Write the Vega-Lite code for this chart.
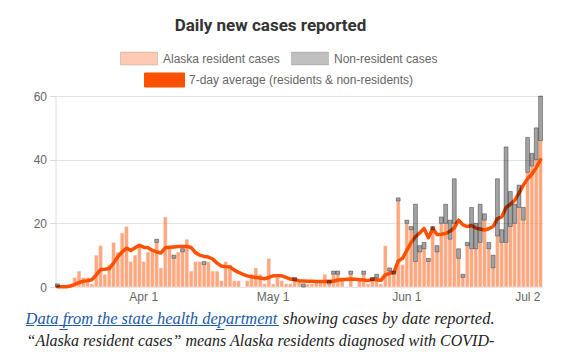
{
  "$schema": "https://vega.github.io/schema/vega-lite/v6.json",
  "width": 487,
  "height": 191,
  "autosize": {"type": "none"},
  "padding": {"left": 55.5, "top": 96, "right": 18.5, "bottom": 69},
  "background": "white",
  "title": {
    "text": "Daily new cases reported",
    "font": "Roboto",
    "fontSize": 17,
    "fontWeight": "bold",
    "color": "#333333",
    "anchor": "middle",
    "frame": "group",
    "dx": -28.5,
    "dy": 21,
    "offset": 12,
    "baseline": "alphabetic"
  },
  "data": {
    "values": [
      {"date": "2020-03-12", "res": 0, "non": 1, "avg": 0.1},
      {"date": "2020-03-13", "res": 0, "non": 0, "avg": 0.1},
      {"date": "2020-03-14", "res": 0, "non": 0, "avg": 0.1},
      {"date": "2020-03-15", "res": 0, "non": 0, "avg": 0.3},
      {"date": "2020-03-16", "res": 3, "non": 0, "avg": 0.8},
      {"date": "2020-03-17", "res": 5, "non": 0, "avg": 1.4},
      {"date": "2020-03-18", "res": 3, "non": 0, "avg": 1.8},
      {"date": "2020-03-19", "res": 3, "non": 0, "avg": 2.0},
      {"date": "2020-03-20", "res": 1, "non": 0, "avg": 2.3},
      {"date": "2020-03-21", "res": 10, "non": 0, "avg": 3.8},
      {"date": "2020-03-22", "res": 13, "non": 0, "avg": 5.5},
      {"date": "2020-03-23", "res": 4, "non": 0, "avg": 5.6},
      {"date": "2020-03-24", "res": 7, "non": 0, "avg": 5.8},
      {"date": "2020-03-25", "res": 14, "non": 0, "avg": 7.5},
      {"date": "2020-03-26", "res": 11, "non": 0, "avg": 9.5},
      {"date": "2020-03-27", "res": 17, "non": 0, "avg": 11.0},
      {"date": "2020-03-28", "res": 19, "non": 0, "avg": 12.2},
      {"date": "2020-03-29", "res": 8, "non": 0, "avg": 11.5},
      {"date": "2020-03-30", "res": 10, "non": 0, "avg": 12.3},
      {"date": "2020-03-31", "res": 13, "non": 0, "avg": 13.1},
      {"date": "2020-04-01", "res": 8, "non": 0, "avg": 12.5},
      {"date": "2020-04-02", "res": 11, "non": 0, "avg": 12.3},
      {"date": "2020-04-03", "res": 11, "non": 0, "avg": 11.5},
      {"date": "2020-04-04", "res": 14, "non": 1, "avg": 11.0},
      {"date": "2020-04-05", "res": 6, "non": 0, "avg": 10.7},
      {"date": "2020-04-06", "res": 22, "non": 0, "avg": 12.3},
      {"date": "2020-04-07", "res": 12, "non": 0, "avg": 12.5},
      {"date": "2020-04-08", "res": 9, "non": 1, "avg": 12.6},
      {"date": "2020-04-09", "res": 11, "non": 0, "avg": 12.7},
      {"date": "2020-04-10", "res": 11, "non": 1, "avg": 12.7},
      {"date": "2020-04-11", "res": 15, "non": 0, "avg": 12.7},
      {"date": "2020-04-12", "res": 5, "non": 0, "avg": 12.4},
      {"date": "2020-04-13", "res": 8, "non": 0, "avg": 10.8},
      {"date": "2020-04-14", "res": 8, "non": 0, "avg": 10.0},
      {"date": "2020-04-15", "res": 7, "non": 1, "avg": 9.6},
      {"date": "2020-04-16", "res": 8, "non": 0, "avg": 9.4},
      {"date": "2020-04-17", "res": 5, "non": 0, "avg": 8.8},
      {"date": "2020-04-18", "res": 5, "non": 0, "avg": 7.5},
      {"date": "2020-04-19", "res": 2, "non": 0, "avg": 6.6},
      {"date": "2020-04-20", "res": 8, "non": 0, "avg": 6.4},
      {"date": "2020-04-21", "res": 7, "non": 0, "avg": 6.3},
      {"date": "2020-04-22", "res": 2, "non": 0, "avg": 5.3},
      {"date": "2020-04-23", "res": 2, "non": 0, "avg": 4.6},
      {"date": "2020-04-24", "res": 0, "non": 0, "avg": 4.0},
      {"date": "2020-04-25", "res": 2, "non": 0, "avg": 3.5},
      {"date": "2020-04-26", "res": 4, "non": 0, "avg": 3.2},
      {"date": "2020-04-27", "res": 6, "non": 0, "avg": 3.0},
      {"date": "2020-04-28", "res": 4, "non": 0, "avg": 2.8},
      {"date": "2020-04-29", "res": 1, "non": 0, "avg": 2.6},
      {"date": "2020-04-30", "res": 9, "non": 0, "avg": 3.0},
      {"date": "2020-05-01", "res": 1, "non": 0, "avg": 3.5},
      {"date": "2020-05-02", "res": 3, "non": 0, "avg": 3.5},
      {"date": "2020-05-03", "res": 2, "non": 0, "avg": 3.5},
      {"date": "2020-05-04", "res": 1, "non": 0, "avg": 3.0},
      {"date": "2020-05-05", "res": 1, "non": 0, "avg": 2.5},
      {"date": "2020-05-06", "res": 2, "non": 1, "avg": 2.3},
      {"date": "2020-05-07", "res": 2, "non": 0, "avg": 2.0},
      {"date": "2020-05-08", "res": 0, "non": 1, "avg": 1.9},
      {"date": "2020-05-09", "res": 1, "non": 0, "avg": 1.8},
      {"date": "2020-05-10", "res": 1, "non": 0, "avg": 1.8},
      {"date": "2020-05-11", "res": 2, "non": 0, "avg": 1.7},
      {"date": "2020-05-12", "res": 2, "non": 0, "avg": 1.7},
      {"date": "2020-05-13", "res": 4, "non": 0, "avg": 1.7},
      {"date": "2020-05-14", "res": 1, "non": 1, "avg": 1.8},
      {"date": "2020-05-15", "res": 4, "non": 1, "avg": 1.8},
      {"date": "2020-05-16", "res": 4, "non": 1, "avg": 2.2},
      {"date": "2020-05-17", "res": 3, "non": 0, "avg": 2.3},
      {"date": "2020-05-18", "res": 0, "non": 0, "avg": 2.4},
      {"date": "2020-05-19", "res": 4, "non": 1, "avg": 2.5},
      {"date": "2020-05-20", "res": 0, "non": 0, "avg": 2.4},
      {"date": "2020-05-21", "res": 2, "non": 0, "avg": 2.3},
      {"date": "2020-05-22", "res": 4, "non": 1, "avg": 2.2},
      {"date": "2020-05-23", "res": 1, "non": 0, "avg": 2.0},
      {"date": "2020-05-24", "res": 2, "non": 1, "avg": 2.4},
      {"date": "2020-05-25", "res": 3, "non": 1, "avg": 2.3},
      {"date": "2020-05-26", "res": 1, "non": 0, "avg": 2.1},
      {"date": "2020-05-27", "res": 13, "non": 0, "avg": 3.8},
      {"date": "2020-05-28", "res": 5, "non": 1, "avg": 4.3},
      {"date": "2020-05-29", "res": 4, "non": 1, "avg": 4.6},
      {"date": "2020-05-30", "res": 27, "non": 1, "avg": 8.2},
      {"date": "2020-05-31", "res": 7, "non": 0, "avg": 9.0},
      {"date": "2020-06-01", "res": 20, "non": 1, "avg": 11.5},
      {"date": "2020-06-02", "res": 18, "non": 1, "avg": 14.0},
      {"date": "2020-06-03", "res": 8, "non": 18, "avg": 15.8},
      {"date": "2020-06-04", "res": 11, "non": 2, "avg": 17.0},
      {"date": "2020-06-05", "res": 12, "non": 2, "avg": 18.4},
      {"date": "2020-06-06", "res": 8, "non": 1, "avg": 15.5},
      {"date": "2020-06-07", "res": 18, "non": 1, "avg": 18.4},
      {"date": "2020-06-08", "res": 11, "non": 2, "avg": 16.5},
      {"date": "2020-06-09", "res": 20, "non": 2, "avg": 16.6},
      {"date": "2020-06-10", "res": 20, "non": 6, "avg": 16.8},
      {"date": "2020-06-11", "res": 15, "non": 6, "avg": 17.5},
      {"date": "2020-06-12", "res": 20, "non": 14, "avg": 18.6},
      {"date": "2020-06-13", "res": 9, "non": 3, "avg": 21.0},
      {"date": "2020-06-14", "res": 3, "non": 1, "avg": 19.5},
      {"date": "2020-06-15", "res": 13, "non": 1, "avg": 19.0},
      {"date": "2020-06-16", "res": 12, "non": 13, "avg": 19.3},
      {"date": "2020-06-17", "res": 12, "non": 8, "avg": 18.5},
      {"date": "2020-06-18", "res": 14, "non": 12, "avg": 18.2},
      {"date": "2020-06-19", "res": 21, "non": 2, "avg": 17.9},
      {"date": "2020-06-20", "res": 12, "non": 2, "avg": 18.3},
      {"date": "2020-06-21", "res": 6, "non": 4, "avg": 19.0},
      {"date": "2020-06-22", "res": 16, "non": 18, "avg": 21.5},
      {"date": "2020-06-23", "res": 14, "non": 4, "avg": 22.0},
      {"date": "2020-06-24", "res": 14, "non": 30, "avg": 25.0},
      {"date": "2020-06-25", "res": 19, "non": 11, "avg": 26.0},
      {"date": "2020-06-26", "res": 20, "non": 6, "avg": 27.2},
      {"date": "2020-06-27", "res": 25, "non": 7, "avg": 29.5},
      {"date": "2020-06-28", "res": 21, "non": 4, "avg": 32.0},
      {"date": "2020-06-29", "res": 36, "non": 11, "avg": 34.0},
      {"date": "2020-06-30", "res": 38, "non": 4, "avg": 35.5},
      {"date": "2020-07-01", "res": 40, "non": 10, "avg": 37.5},
      {"date": "2020-07-02", "res": 46, "non": 14, "avg": 40.0}
    ]
  },
  "layer": [
    {
      "transform": [{"filter": "datum.res > 0"}],
      "mark": {"type": "bar", "fill": "rgba(255,80,0,0.5)", "stroke": "#ffffff", "strokeOpacity": 0.4, "strokeWidth": 1},
      "encoding": {
        "x": {
          "field": "date",
          "type": "ordinal",
          "scale": {"type": "band", "paddingInner": 0.1, "paddingOuter": 0},
          "axis": {
            "orient": "bottom",
            "values": ["2020-04-01", "2020-05-01", "2020-06-01", "2020-07-02"],
            "labelExpr": "{'2020-04-01': 'Apr 1', '2020-05-01': 'May 1', '2020-06-01': 'Jun 1', '2020-07-02': 'Jul 2'}[datum.value]",
            "labelAngle": 0,
            "labelAlign": {"condition": {"test": "datum.value === '2020-07-02'", "value": "right"}, "value": "center"},
            "labelFont": "Liberation Sans",
            "labelFontSize": 12,
            "labelColor": "#666666",
            "labelPadding": 4,
            "ticks": false,
            "domain": false,
            "grid": false,
            "title": "\u201cAlaska resident cases\u201d means Alaska residents diagnosed with COVID-",
            "titleFont": "Liberation Serif",
            "titleFontStyle": "italic",
            "titleFontWeight": "normal",
            "titleFontSize": 16,
            "titleColor": "#222222",
            "titleAlign": "left",
            "titleAnchor": "start",
            "titleX": -29.5,
            "titleY": 58.5,
            "titleBaseline": "alphabetic",
            "titleLimit": 600
          }
        },
        "y": {
          "field": "res",
          "type": "quantitative",
          "scale": {"domain": [0, 60], "nice": false},
          "axis": {
            "values": [0, 10, 20, 30, 40, 50, 60],
            "title": null,
            "grid": true,
            "gridColor": "#e3e3e3",
            "domain": true,
            "domainColor": "#dcdcdc",
            "ticks": true,
            "tickColor": "#dcdcdc",
            "tickSize": 6,
            "labelFont": "Liberation Sans",
            "labelFontSize": 12,
            "labelColor": "#666666",
            "labelPadding": 3
          }
        }
      }
    },
    {
      "mark": {"type": "line", "strokeWidth": 3.5, "strokeJoin": "round", "strokeCap": "round"},
      "encoding": {
        "x": {
          "field": "date",
          "type": "ordinal",
          "scale": {"type": "band"},
          "axis": {
            "orient": "bottom",
            "labels": false,
            "ticks": false,
            "domain": false,
            "grid": false,
            "title": "showing cases by date reported.",
            "titleFont": "Liberation Serif",
            "titleFontStyle": "italic",
            "titleFontWeight": "normal",
            "titleFontSize": 16.5,
            "titleColor": "#222222",
            "titleAlign": "left",
            "titleAnchor": "start",
            "titleX": 227,
            "titleY": 36.5,
            "titleBaseline": "alphabetic",
            "titleLimit": 400
          }
        },
        "y": {"field": "avg", "type": "quantitative", "axis": {"title": null}},
        "stroke": {
          "datum": "7-day average (residents & non-residents)",
          "scale": {"range": ["#ff5000"]},
          "legend": {
            "orient": "none",
            "legendX": 88.5,
            "legendY": -36.5,
            "title": null,
            "symbolType": "M-1,-0.35H1V0.35H-1Z",
            "symbolSize": 1600,
            "labelFont": "Liberation Sans",
            "labelFontSize": 12,
            "labelColor": "#666666",
            "labelOffset": 4,
            "labelLimit": 400,
            "padding": 0,
            "encode": {
              "symbols": {
                "update": {
                  "fill": {"value": "#ff5000"},
                  "stroke": {"value": "#ffa27a"},
                  "strokeWidth": {"value": 1},
                  "opacity": {"value": 1}
                }
              }
            }
          }
        }
      }
    },
    {
      "transform": [
        {"fold": ["res", "non"], "as": ["type", "cases"]},
        {"stack": "cases", "groupby": ["date"], "sort": [{"field": "type", "order": "descending"}], "as": ["c0", "c1"]},
        {"filter": "datum.type === 'non' && datum.cases > 0"}
      ],
      "mark": {"type": "bar", "fill": "rgba(0,0,0,0.36)", "stroke": "#000000", "strokeOpacity": 0.35, "strokeWidth": 1},
      "encoding": {
        "x": {
          "field": "date",
          "type": "ordinal",
          "scale": {"type": "band"},
          "axis": {
            "orient": "bottom",
            "labels": false,
            "ticks": false,
            "domain": false,
            "grid": false,
            "title": "D\u0332a\u0332t\u0332a\u0332 \u0332f\u0332r\u0332o\u0332m\u0332 \u0332t\u0332h\u0332e\u0332 \u0332s\u0332t\u0332a\u0332t\u0332e\u0332 \u0332h\u0332e\u0332a\u0332l\u0332t\u0332h\u0332 \u0332d\u0332e\u0332p\u0332a\u0332r\u0332t\u0332m\u0332e\u0332n\u0332t\u0332",
            "titleFont": "Liberation Serif",
            "titleFontStyle": "italic",
            "titleFontWeight": "normal",
            "titleFontSize": 16.5,
            "titleColor": "#1a5aa8",
            "titleAlign": "left",
            "titleAnchor": "start",
            "titleX": -30.5,
            "titleY": 36.5,
            "titleBaseline": "alphabetic",
            "titleLimit": 400
          }
        },
        "y": {"field": "c1", "type": "quantitative", "axis": {"title": null}},
        "y2": {"field": "c0"}
      }
    },
    {
      "transform": [
        {"fold": ["res", "non"], "as": ["type", "cases"]},
        {"filter": "false"}
      ],
      "mark": {"type": "bar"},
      "encoding": {
        "fill": {
          "field": "type",
          "type": "nominal",
          "scale": {"domain": ["res", "non"], "range": ["#ffcab3", "#c0c0c0"]},
          "legend": {
            "orient": "none",
            "legendX": 64.5,
            "legendY": -56.7,
            "direction": "horizontal",
            "title": null,
            "labelExpr": "datum.value === 'res' ? 'Alaska resident cases' : 'Non-resident cases'",
            "symbolType": "M-1,-0.35H1V0.35H-1Z",
            "symbolSize": 1369,
            "symbolStrokeColor": "rgba(0,0,0,0.14)",
            "symbolStrokeWidth": 1,
            "symbolOpacity": 1,
            "labelFont": "Liberation Sans",
            "labelFontSize": 12,
            "labelColor": "#666666",
            "labelOffset": 5,
            "columnPadding": 9,
            "padding": 0
          }
        }
      }
    }
  ],
  "resolve": {"axis": {"x": "independent"}},
  "config": {"view": {"stroke": null}}
}
